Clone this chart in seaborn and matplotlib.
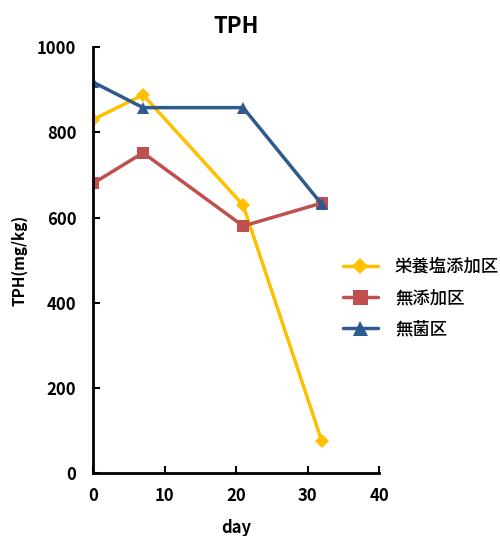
import matplotlib
matplotlib.use("Agg")
import matplotlib.pyplot as plt
import seaborn as sns
import pandas as pd

days = [0, 7, 21, 32]
series_names = ["栄養塩添加区", "無添加区", "無菌区"]
eiyou = [830, 888, 629, 75]
mutenka = [680, 752, 580, 634]
mukin = [918, 858, 858, 631]
x_ticks = [0, 10, 20, 30, 40]
y_ticks = [0, 200, 400, 600, 800, 1000]

sns.set_theme(style="white")
plt.rcParams['font.family'] = ['Noto Sans CJK JP', 'DejaVu Sans']
plt.rcParams['font.weight'] = 'bold'

rows = []
for name, vals in zip(series_names, [eiyou, mutenka, mukin]):
    for d, v in zip(days, vals):
        rows.append({"day": d, "TPH": v, "series": name})
df = pd.DataFrame(rows)

colors = {"栄養塩添加区": "#FFC000", "無添加区": "#C0504D", "無菌区": "#2F5A8E"}
markers = {"栄養塩添加区": "D", "無添加区": "s", "無菌区": "^"}
msizes = {"栄養塩添加区": 7, "無添加区": 9, "無菌区": 9}

fig = plt.figure(figsize=(5.0, 5.36), dpi=100)
ax = fig.add_axes([0.186, 0.1175, 0.572, 0.7945])

for name in series_names:
    sub = df[df.series == name]
    sns.lineplot(data=sub, x="day", y="TPH", ax=ax, color=colors[name],
                 marker=markers[name], markersize=msizes[name],
                 markeredgewidth=0, linewidth=2.5, label=name)

ax.set_xlim(0, 40)
ax.set_ylim(0, 1000)
ax.set_xticks(x_ticks)
ax.set_yticks(y_ticks)
ax.tick_params(direction="in", length=5, width=1.5, labelsize=12, pad=10,
               bottom=True, left=True, colors="black")
ax.tick_params(axis="y", pad=12)
for lab in ax.get_xticklabels() + ax.get_yticklabels():
    lab.set_fontweight("bold")
for s in ["top", "right"]:
    ax.spines[s].set_visible(False)
for s in ["left", "bottom"]:
    ax.spines[s].set_color("black")
    ax.spines[s].set_linewidth(2)

ax.set_xlabel("day", fontsize=12, fontweight="bold", labelpad=10, color="black")
ax.set_ylabel("TPH(mg/kg)", fontsize=11, fontweight="bold", labelpad=7, color="black")
ax.set_title("TPH", fontsize=16, fontweight="bold", pad=10, color="black")

leg = ax.legend(loc="center left", bbox_to_anchor=(0.672, 0.444),
                bbox_transform=fig.transFigure, frameon=False,
                fontsize=12.5, handlelength=2.0, handletextpad=1.0,
                labelspacing=0.75, borderaxespad=0, markerscale=1.2)
for t in leg.get_texts():
    t.set_fontweight("medium")
    t.set_color("black")

fig.savefig("out.png", dpi=100)
